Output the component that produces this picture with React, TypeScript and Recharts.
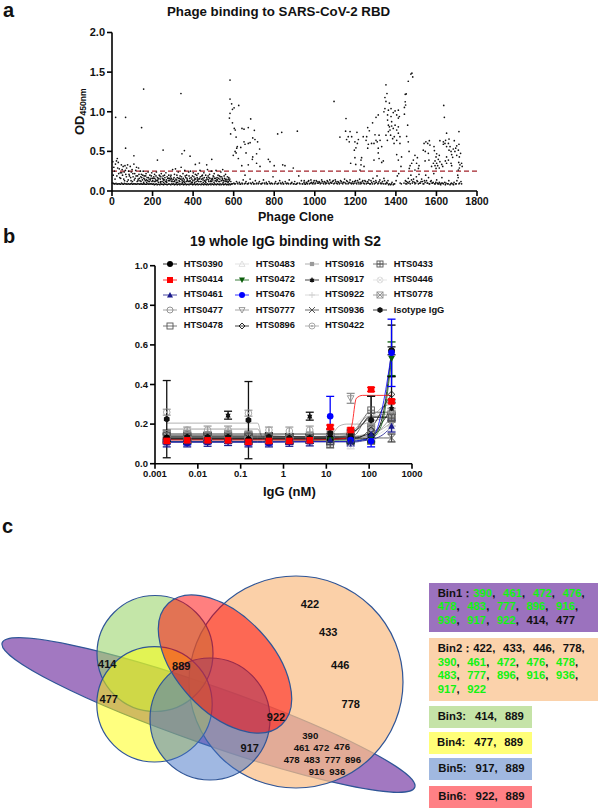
import { ComposedChart, Line, ErrorBar, Scatter, ScatterChart, XAxis, YAxis, ReferenceLine } from "recharts";

const FONT = '"Liberation Sans", Arial, sans-serif';

// panel a: phage clones, [clone, OD450]
const highClones = [
  [18,.93],[67,.93],[156,1.286],[146,.8],[340,1.23],[67,.54],[108,.445],[252,.517],[224,.39],[357,.51],[345,.47],[385,.44],[492,.4],[411,.335],[431,.353],[467,.33],
  [582,1.4],[582,1.16],[590,1.1],[582,.98],[579,.92],[594,1.03],[602,1.05],[625,1.08],[594,.86],[585,.72],[603,.79],[608,.77],[612,.68],[684,.91],[641,.79],[672,.8],[651,.78],[702,.765],
  [618,.56],[615,.54],[607,.5],[598,.45],[612,.48],[635,.55],[656,.59],[672,.6],[681,.61],[651,.62],[694,.67],[705,.65],[718,.62],[728,.53],[661,.48],[694,.43],[713,.47],[623,.41],[692,.4],[640,.32],[672,.33],[713,.35],[730,.31],[656,.2],[771,.4],[779,.37],[800,.32],[817,.72],[837,.74],[842,.33],[914,.755],[853,.32],[894,.29],
  [1095,1.13],[1154,.915],[1124,.68],[1152,.755],[1174,.75],[1165,.685],[1157,.65],[1182,.685],[1170,.62],[1208,.74],[1215,.65],[1198,.62],[1210,.6],[1203,.545],[1195,.515],[1198,.42],[1177,.35],[1202,.335],[1231,.42],[1228,.39],[1228,.33],[1243,.31],[1223,.265],[1239,.685],[1256,.685],[1261,.8],[1269,.76],[1285,.86],[1302,.93],[1313,.96],[1253,.64],[1264,.59],[1261,.54],[1280,.6],[1292,.6],[1297,.71],[1317,.705],[1302,.64],[1308,.62],[1322,.64],[1330,.56],[1313,.54],[1292,.39],[1313,.48],[1317,.41],[1338,.38],[1330,.36],
  [1351,1.34],[1356,1.23],[1346,1.18],[1351,1.13],[1368,1.11],[1346,1.04],[1341,1],[1363,1.02],[1376,1.04],[1396,1.01],[1412,1.02],[1387,.99],[1359,.96],[1376,.94],[1404,.96],[1417,.94],[1412,.92],[1359,.895],[1379,.875],[1363,.83],[1368,.81],[1379,.82],[1396,.83],[1412,.81],[1371,.77],[1387,.79],[1363,.75],[1404,.77],[1374,.705],[1351,.705],[1392,.685],[1412,.73],[1420,.685],[1358,.64],[1384,.66],[1404,.64],[1391,.6],[1420,.6],[1404,.46],[1428,.43],[1412,.39],[1425,.31],
  [1474,1.475],[1479,1.487],[1483,1.44],[1461,1.385],[1446,1.22],[1451,1.225],[1446,1.126],[1448,1.085],[1442,1.055],[1442,.97],[1458,.83],[1461,.62],[1453,.69],[1465,.5],[1494,.45],[1486,.39],[1506,.42],[1478,.35],[1502,.35],[1470,.32],[1514,.32],[1511,.285],[1466,.285],[1494,.265],
  [1539,.6],[1548,.62],[1565,.635],[1557,.6],[1568,.58],[1535,.515],[1545,.5],[1560,.475],[1544,.38],[1563,.39],[1588,.56],[1590,.51],[1601,.47],[1614,.45],[1598,.43],[1609,.4],[1593,.38],[1585,.35],[1601,.35],[1617,.37],[1593,.32],[1576,.31],[1606,.32],[1626,.335],[1614,.29],[1598,.285],[1631,.31],
  [1636,1.08],[1639,.93],[1711,.75],[1650,.73],[1617,.635],[1634,.62],[1645,.64],[1662,.655],[1688,.635],[1711,.59],[1642,.6],[1659,.6],[1634,.59],[1650,.56],[1667,.56],[1700,.57],[1662,.515],[1683,.53],[1695,.54],[1672,.5],[1691,.5],[1708,.515],[1675,.46],[1719,.475],[1680,.425],[1700,.45],[1713,.43],[1650,.43],[1644,.38],[1659,.39],[1650,.35],[1672,.35],[1675,.32],[1710,.36],[1724,.35],[1716,.33],[1727,.31],[1713,.29],[1708,.265],[1705,.2],
];

const leftCloud = [
  [4,.37],[9,.3],[12,.25],[17,.34],[22,.38],[26,.41],[31,.36],[36,.28],[41,.23],[46,.33],[50,.27],[55,.31],[60,.24],[64,.32],[68,.21],[72,.29],[77,.33],[82,.25],[86,.19],[90,.31],[95,.24],[99,.27],[104,.18],[108,.34],[112,.22],[117,.26],[121,.3],[126,.19],[131,.29],[135,.16],[140,.25],[145,.21],[150,.14],[154,.25],[159,.19],[164,.13],[168,.22],[173,.17],[178,.24],[182,.12],[187,.2],[192,.16],[196,.23],[201,.13],[206,.18],[210,.21],[215,.14],[219,.24],[224,.17],[229,.11],[233,.2],[238,.15],[243,.22],[247,.12],[252,.19],[257,.14],[261,.17],[266,.23],[270,.11],[275,.16],[280,.2],[285,.13],[289,.18],[294,.12],[299,.27],[303,.15],[308,.21],[313,.28],[317,.11],[322,.17],[327,.24],[331,.13],[336,.19],[341,.3],[345,.15],[350,.22],[354,.12],[359,.26],[364,.17],[368,.2],[373,.13],[378,.24],[383,.16],[387,.25],[392,.11],[397,.19],[401,.23],[406,.14],[411,.21],[415,.12],[420,.17],[425,.22],[429,.15],[434,.26],[439,.12],[443,.19],[448,.16],[453,.23],[457,.13],[462,.2],[467,.17],[471,.27],[476,.14],[481,.21],[485,.12],[490,.25],[495,.16],[499,.19],[504,.22],[509,.13],[513,.26],[518,.17],[523,.2],[527,.12],[532,.15],[537,.24],[541,.18],[546,.27],[551,.13],[555,.16],[560,.21],[565,.12],[569,.18],[574,.15],[579,.13],
  [6,.2],[15,.15],[24,.19],[33,.22],[43,.16],[52,.2],[62,.13],[71,.18],[80,.14],[92,.17],[101,.12],[114,.16],[128,.13],[142,.18],[156,.11],[170,.14],[185,.12],[199,.16],[213,.12],[227,.15],[241,.18],[255,.11],[268,.14],[282,.16],[296,.14],[310,.13],[324,.11],[338,.15],[352,.16],[366,.12],[380,.19],[394,.15],[408,.11],[422,.13],[436,.18],[450,.11],[464,.14],[478,.17],[492,.12],[506,.16],[520,.14],[534,.18],[548,.11],[562,.15],[576,.17],
  [28,.29],[38,.17],[48,.23],[58,.15],[66,.26],[75,.12],[84,.21],[94,.13],[103,.22],[110,.14],[119,.19],[124,.12],[133,.21],[138,.13],[147,.17],[152,.2],[161,.15],[166,.19],[176,.13],[180,.17],[189,.14],[194,.19],[203,.16],[208,.12],[217,.19],[221,.13],[231,.16],[236,.19],[240,.12],[249,.16],[254,.14],[259,.2],[264,.12],[272,.18],[278,.13],[287,.15],[291,.2],[301,.12],[306,.17],[315,.15],[320,.2],[329,.16],[334,.12],[343,.18],[347,.11],[356,.14],[361,.19],[370,.16],[376,.12],[385,.13],[390,.17],[399,.13],[404,.18],[413,.15],[418,.2],[427,.12],[432,.16],[441,.15],[446,.2],[455,.17],[460,.12],[469,.15],[474,.19],[483,.16],[488,.13],[497,.14],[502,.18],[511,.16],[516,.12],[525,.16],[530,.19],[539,.13],[544,.16],[553,.19],[558,.12],[567,.14],[572,.11],[581,.15],[586,.12],
  [129,.15],[143,.12],[157,.16],[171,.11],[183,.15],[197,.12],[211,.16],[225,.13],[239,.11],[253,.15],[267,.12],[279,.16],[293,.16],[307,.12],[319,.14],[333,.16],[346,.13],[358,.11],[371,.14],[384,.12],[396,.11],[409,.16],[423,.15],[435,.12],[449,.14],[463,.11],[477,.12],[491,.15],[503,.11],[517,.14],[531,.12],[545,.14],[559,.14],[573,.12],
];

const leftBase = [
  [2,.1],[11,.09],[20,.095],[29,.09],[38,.09],[47,.1],[56,.085],[65,.09],[74,.085],[83,.09],[92,.09],[101,.085],[110,.09],[119,.085],[128,.09],[137,.085],[146,.09],[155,.09],[164,.085],[173,.09],[182,.085],[191,.09],[200,.085],[209,.08],[218,.09],[227,.085],[236,.08],[245,.085],[254,.08],[263,.085],[272,.08],[281,.09],[290,.08],[299,.085],[308,.08],[317,.09],[326,.085],[335,.08],[344,.085],[353,.08],[362,.09],[371,.085],[380,.08],[389,.085],[398,.08],[407,.09],[416,.085],[425,.08],[434,.085],[443,.09],[452,.08],[461,.085],[470,.09],[479,.085],[488,.08],[497,.085],[506,.09],[515,.08],[524,.085],[533,.09],[542,.085],[551,.08],[560,.09],[569,.085],[578,.09],[586,.085],[594,.09],
  [7,.095],[25,.085],[43,.085],[61,.095],[79,.09],[97,.095],[115,.09],[133,.09],[151,.085],[169,.085],[187,.09],[205,.09],[223,.08],[241,.09],[259,.09],[277,.085],[295,.09],[313,.085],[331,.09],[349,.09],[367,.08],[385,.09],[403,.085],[421,.09],[439,.08],[457,.09],[475,.08],[493,.09],[511,.085],[529,.08],[547,.09],[565,.08],[583,.08],
  [15,.09],[34,.09],[52,.09],[70,.09],[88,.085],[106,.09],[124,.09],[142,.09],[160,.09],[178,.09],[196,.09],[214,.085],[232,.085],[250,.085],[268,.085],[286,.085],[304,.09],[322,.08],[340,.09],[358,.085],[376,.085],[394,.09],[412,.08],[430,.085],[448,.085],[466,.08],[484,.09],[502,.08],[520,.09],[538,.08],[556,.085],[574,.08],[590,.09],
];

const rightBand = [
  [601,.1],[608,.09],[614,.12],[621,.09],[628,.11],[634,.085],[641,.1],[647,.14],[654,.09],[661,.12],[667,.09],[674,.1],[681,.15],[687,.09],[694,.11],[701,.09],[707,.13],[714,.1],[721,.09],[727,.12],[734,.09],[741,.1],[747,.14],[754,.09],[761,.11],[767,.09],[774,.12],[781,.09],[787,.1],[794,.18],[801,.09],[807,.12],[814,.09],[821,.1],[827,.13],[834,.09],[841,.11],[847,.09],[854,.12],[861,.09],[867,.1],[874,.14],[881,.09],[887,.11],[894,.09],[901,.12],[907,.085],[914,.1],[921,.19],[927,.09],[934,.13],[941,.09],[947,.11],[954,.085],[961,.1],[967,.12],[974,.09],[981,.14],[987,.095],[994,.11],[1001,.09],[1007,.13],[1014,.1],[1021,.12],[1027,.09],[1034,.14],[1041,.1],[1047,.12],[1054,.09],[1061,.13],[1067,.1],[1074,.14],[1081,.1],[1087,.12],[1094,.09],[1101,.14],[1107,.1],[1114,.12],[1121,.09],[1127,.13],[1134,.1],[1141,.11],[1147,.15],[1154,.09],[1161,.12],[1167,.1],[1174,.14],[1181,.09],[1187,.12],[1194,.1],[1201,.13],[1207,.09],[1214,.11],[1221,.15],[1227,.09],[1234,.12],[1241,.1],[1247,.13],[1254,.09],[1261,.12],[1267,.14],[1274,.09],[1281,.11],[1287,.16],[1294,.09],[1301,.13],[1307,.19],[1314,.1],[1321,.14],[1327,.09],[1334,.12],[1341,.16],[1347,.09],[1354,.11],[1361,.13],[1367,.09],[1374,.08],[1381,.11],[1387,.08],[1394,.09],[1401,.13],[1407,.19],[1414,.22],[1421,.1],[1427,.09],[1440,.1],[1447,.13],[1454,.09],[1461,.16],[1467,.12],[1474,.2],[1481,.1],[1487,.15],[1494,.09],[1501,.18],[1507,.12],[1514,.21],[1521,.1],[1527,.15],[1534,.09],[1541,.13],[1547,.2],[1554,.1],[1561,.17],[1567,.09],[1574,.13],[1581,.1],[1587,.22],[1594,.09],[1601,.14],[1607,.09],[1614,.11],[1621,.08],[1627,.17],[1634,.09],[1641,.11],[1647,.1],[1654,.09],[1661,.13],[1667,.08],[1674,.1],[1681,.09],[1687,.11],[1694,.09],[1701,.13],[1707,.17],[1714,.1],[1721,.12],
  [604,.09],[618,.1],[631,.09],[644,.09],[658,.1],[671,.09],[684,.1],[698,.09],[711,.09],[724,.1],[738,.09],[751,.1],[764,.09],[778,.1],[791,.09],[804,.1],[818,.09],[831,.1],[844,.09],[858,.1],[871,.09],[884,.1],[898,.09],[911,.09],[924,.1],[938,.09],[951,.09],[964,.09],[978,.1],[991,.09],[1004,.1],[1018,.1],[1031,.1],[1044,.09],[1058,.1],[1071,.09],[1084,.1],[1098,.1],[1111,.09],[1124,.1],[1138,.09],[1151,.1],[1164,.09],[1178,.1],[1191,.09],[1204,.1],[1218,.09],[1231,.1],[1244,.09],[1258,.1],[1271,.09],[1284,.09],[1298,.1],[1311,.09],[1324,.1],[1338,.09],[1351,.09],[1364,.08],[1378,.09],[1391,.09],[1449,.09],[1458,.11],[1471,.09],[1484,.12],[1498,.1],[1511,.09],[1524,.12],[1538,.09],[1551,.13],[1564,.09],[1578,.1],[1591,.09],[1604,.1],[1618,.09],[1631,.1],[1644,.08],[1658,.09],[1671,.09],[1684,.08],[1698,.09],[1711,.09],[1724,.09],
  [948,.13],[958,.11],[970,.13],[984,.11],[997,.13],[1011,.12],[1024,.11],[1037,.12],[1051,.11],[1064,.12],[1077,.11],[1091,.13],[1104,.12],[1117,.11],[1131,.12],[1144,.11],[1157,.13],[1171,.11],[1184,.1],[1197,.12],[1211,.13],[1224,.11],[1237,.13],[1251,.12],[1264,.1],[1277,.13],[1291,.12],[1304,.11],[1317,.12],[1331,.1],[1344,.13],[1357,.1],[1451,.12],[1464,.1],[1477,.14],[1491,.11],[1504,.13],[1517,.1],[1531,.12],[1544,.11],[1557,.1],[1571,.12],[1584,.11],[1597,.11],[1611,.09],[1624,.1],
];

const cloneTicks = [0, 200, 400, 600, 800, 1000, 1200, 1400, 1600, 1800];
const odTicks = [0, 0.5, 1, 1.5, 2];
const clonePoints = [...highClones, ...leftCloud, ...leftBase, ...rightBand].map(([x, y]) => ({ x, y }));

// panel b: dilution series
const conc = [0.00188, 0.00565, 0.0169, 0.0508, 0.152, 0.457, 1.37, 4.1, 12.3, 37, 111, 333];
const fitX = [0.00188, 0.25, 0.32, 5, 12, 20, 30, 40, 50, 70, 100, 150, 220, 333];
const concTicks = [0.001, 0.01, 0.1, 1, 10, 100, 1000];
const igTicks = [0, 0.2, 0.4, 0.6, 0.8, 1];

const names = ["HTS0390","HTS0414","HTS0461","HTS0477","HTS0478","HTS0483","HTS0472","HTS0476","HTS0777","HTS0896","HTS0916","HTS0917","HTS0922","HTS0936","HTS0422","HTS0433","HTS0446","HTS0778","Isotype IgG"];
const colors = ["#000","#ff0000","#1a1a8c","#8a8a8a","#555","#dcdcdc","#0b5d0b","#0000ff","#909090","#111","#9a9a9a","#111","#d0d0d0","#444","#a0a0a0","#555","#dedede","#8c8c8c","#111"];
const shapes = ["circle","square","tri","ocircle","osquare","otri","dtri","circle","odtri","diamond","ssquare","star","plus","cross","dcircle","psquare","xcircle","xsquare","hex"];

const values = [
  [.13,.12,.125,.125,.12,.125,.12,.125,.13,.13,.14,.57],
  [.115,.118,.118,.118,.11,.115,.115,.118,.185,.17,.375,.315],
  [.105,.105,.108,.112,.105,.105,.108,.11,.12,.11,.15,.19],
  [.13,.13,.135,.13,.125,.13,.13,.13,.125,.12,.16,.24],
  [.15,.135,.14,.135,.14,.135,.13,.13,.1,.13,.16,.235],
  [.12,.12,.125,.12,.115,.12,.12,.12,.115,.09,.135,.2],
  [.11,.11,.115,.115,.11,.11,.115,.115,.12,.115,.13,.53],
  [.11,.105,.11,.115,.105,.105,.11,.115,.24,.12,.115,.56],
  [.125,.125,.125,.12,.125,.12,.125,.12,.135,.33,.165,.3],
  [.13,.125,.13,.125,.125,.125,.12,.125,.12,.12,.17,.35],
  [.12,.12,.12,.12,.12,.12,.12,.12,.125,.14,.14,.21],
  [.135,.13,.135,.245,.13,.13,.13,.24,.13,.13,.13,.28],
  [.12,.12,.12,.12,.12,.115,.12,.12,.12,.125,.2,.26],
  [.125,.125,.125,.125,.13,.125,.12,.125,.12,.12,.13,.13],
  [.26,.17,.17,.17,.255,.17,.165,.17,.15,.155,.2,.24],
  [.14,.135,.135,.135,.135,.13,.13,.13,.115,.13,.27,.23],
  [.14,.14,.14,.14,.14,.14,.14,.14,.13,.14,.17,.26],
  [.15,.14,.14,.14,.145,.13,.13,.14,.13,.14,.18,.25],
  [.225,.135,.135,.135,.22,.135,.13,.13,.155,.15,.22,.57],
];

const errors = [
  [.02,.02,.02,.02,.02,.02,.02,.02,.02,.02,.02,.13],
  [.01,.01,.01,.01,.01,.01,.01,.01,.01,.01,.01,.01],
  [.02,.02,.02,.02,.02,.02,.02,.02,.02,.02,.02,.03],
  [.015,.015,.015,.015,.015,.015,.015,.015,.015,.015,.02,.02],
  [.02,.03,.02,.03,.02,.02,.02,.02,.02,.02,.02,.02],
  [.015,.015,.015,.015,.015,.015,.015,.015,.015,.015,.02,.03],
  [.01,.01,.01,.01,.01,.01,.01,.01,.01,.01,.02,.085],
  [.01,.01,.01,.01,.01,.01,.01,.01,.1,.01,.03,.17],
  [.015,.015,.015,.015,.015,.015,.015,.015,.02,.025,.02,.02],
  [.02,.02,.02,.02,.02,.02,.02,.02,.02,.02,.02,.09],
  [.015,.015,.015,.015,.015,.015,.015,.015,.015,.015,.02,.02],
  [.02,.02,.02,.02,.02,.02,.02,.02,.02,.02,.02,.03],
  [.015,.015,.015,.015,.015,.015,.015,.015,.015,.015,.02,.02],
  [.02,.02,.02,.02,.02,.02,.02,.02,.02,.02,.02,.02],
  [.015,.015,.02,.02,.015,.015,.02,.02,.015,.015,.02,.02],
  [.02,.02,.02,.02,.02,.02,.02,.02,.02,.02,.07,.02],
  [.015,.015,.015,.015,.015,.015,.015,.015,.015,.015,.02,.02],
  [.02,.02,.02,.02,.02,.02,.02,.02,.02,.02,.02,.02],
  [.195,.02,.02,.02,.195,.02,.02,.02,.02,.02,.12,.02],
];

const fits = [
  [.125,.125,.125,.125,.125,.125,.125,.125,.125,.125,.13,.16,.27,.57],
  [.12,.12,.12,.12,.122,.125,.13,.2,.33,.345,.345,.345,.345,.345],
  [.108,.108,.108,.11,.11,.11,.11,.11,.11,.115,.12,.13,.15,.19],
  [.13,.13,.13,.13,.13,.13,.13,.13,.13,.135,.14,.16,.19,.24],
  [.14,.14,.14,.135,.135,.135,.135,.14,.15,.2,.235,.235,.235,.235],
  [.12,.12,.12,.12,.12,.12,.12,.12,.12,.125,.13,.145,.165,.2],
  [.112,.112,.112,.115,.115,.115,.115,.115,.115,.12,.125,.15,.24,.53],
  [.11,.11,.11,.112,.112,.112,.112,.115,.115,.12,.125,.17,.32,.56],
  [.125,.125,.125,.125,.125,.13,.14,.15,.17,.2,.23,.26,.29,.3],
  [.125,.125,.125,.125,.125,.125,.125,.13,.13,.14,.17,.22,.29,.35],
  [.12,.12,.12,.12,.125,.125,.13,.14,.14,.145,.15,.16,.18,.21],
  [.135,.135,.135,.135,.135,.135,.135,.135,.135,.14,.15,.17,.22,.28],
  [.12,.12,.12,.12,.12,.12,.125,.14,.17,.2,.23,.25,.26,.26],
  [.13,.13,.13,.13,.13,.13,.13,.13,.13,.13,.13,.13,.13,.13],
  [.205,.205,.135,.135,.14,.19,.2,.2,.2,.2,.21,.22,.23,.24],
  [.14,.14,.14,.135,.135,.135,.14,.15,.17,.22,.26,.26,.26,.26],
  [.145,.145,.145,.145,.145,.15,.16,.18,.2,.23,.25,.26,.26,.26],
  [.175,.175,.135,.135,.14,.14,.145,.16,.18,.22,.24,.24,.25,.25],
  [.15,.15,.15,.15,.15,.15,.15,.16,.17,.2,.235,.235,.235,.235],
];

// grays first so the black, red and blue markers sit on top
const drawOrder = [5, 12, 16, 3, 10, 14, 4, 17, 15, 8, 13, 9, 11, 0, 18, 6, 7, 2, 1];

const rows = conc.map((x, i) => {
  const row: Record<string, number> = { x };
  values.forEach((v, s) => {
    row[`v${s}`] = v[i];
    row[`e${s}`] = errors[s][i];
  });
  return row;
});
const fitRows = fitX.map((x, i) => {
  const row: Record<string, number> = { x };
  fits.forEach((f, s) => {
    row[`f${s}`] = f[i];
  });
  return row;
});

// panel c: sets, page coordinates
const vennX = [208.5, 296, 155, 154.5, 210, 225];
const vennY = [715, 682, 653.5, 704.3, 719, 664];
const vennRx = [218.6, 107, 58, 57.7, 60, 83];
const vennRy = [29, 106, 58, 57.7, 61, 48];
const vennTilt = [19.3, 0, 0, 0, 0, 47];
const vennFill = ["#7030a0", "#f9be88", "#9dd56e", "#ffff00", "#4171c5", "#ff0000"];
const vennAlpha = [0.65, 0.73, 0.6, 0.5, 0.5, 0.5];
const vennSets = vennX.map((x, i) => ({ x, y: vennY[i], rx: vennRx[i], ry: vennRy[i], tilt: vennTilt[i], i }));

const largeLabels = ["422", "433", "446", "778", "922", "889", "414", "477", "917"];
const largeX = [310, 328.3, 340.3, 350.7, 276, 181.3, 107.3, 108.7, 249.7];
const largeY = [604, 631.7, 664.7, 704, 716.7, 666, 664, 699, 748];
const smallLabels = ["390", "461", "472", "476", "478", "483", "777", "896", "916", "936"];
const smallX = [310.3, 301.7, 321.3, 342, 291.7, 312, 332.7, 353, 316.7, 337.3];
const smallY = [735.7, 747.3, 747, 746.7, 759, 759.3, 759, 759, 771.3, 771.7];
const vennLabels = [
  ...largeLabels.map((t, i) => ({ x: largeX[i], y: largeY[i], t, fs: 11 })),
  ...smallLabels.map((t, i) => ({ x: smallX[i], y: smallY[i], t, fs: 9.6 })),
];

const GREEN = "#12f312";
const binLines: { top: number; label?: string; tokens: [string, boolean][]; closed?: boolean }[] = [
  { top: 593.3, label: "Bin1：", tokens: [["390", true], ["461", true], ["472", true], ["476", true]] },
  { top: 606.7, tokens: [["478", true], ["483", true], ["777", true], ["896", true], ["916", true]] },
  { top: 620.3, closed: true, tokens: [["936", true], ["917", true], ["922", true], ["414", false], ["477", false]] },
  { top: 649, label: "Bin2：", tokens: [["422", false], ["433", false], ["446", false], ["778", false]] },
  { top: 662.3, tokens: [["390", true], ["461", true], ["472", true], ["476", true], ["478", true]] },
  { top: 675.7, tokens: [["483", true], ["777", true], ["896", true], ["916", true], ["936", true]] },
  { top: 689.3, closed: true, tokens: [["917", true], ["922", true]] },
];
const smallBins = [
  { label: "Bin3:", first: "414", top: 706, h: 22, bg: "#c5e3a7", left: 429.3, tx: 437.7 },
  { label: "Bin4:", first: "477", top: 732.3, h: 21.7, bg: "#ffff78", left: 429, tx: 437 },
  { label: "Bin5:", first: "917", top: 758, h: 22, bg: "#a0b8e0", left: 429.3, tx: 438.3 },
  { label: "Bin6:", first: "922", top: 786.3, h: 21.7, bg: "#ff8085", left: 429.3, tx: 438.3 },
];

function Marker({ kind, cx, cy, color, r = 3.3 }: { kind: string; cx: number; cy: number; color: string; r?: number }) {
  const sw = 0.9;
  const open = { fill: "none", stroke: color, strokeWidth: sw };
  const tri = `${cx},${cy - r} ${cx + r},${cy + r * 0.8} ${cx - r},${cy + r * 0.8}`;
  const dtri = `${cx},${cy + r} ${cx + r},${cy - r * 0.8} ${cx - r},${cy - r * 0.8}`;
  const line = { stroke: color, strokeWidth: sw };
  switch (kind) {
    case "circle":
      return <circle cx={cx} cy={cy} r={r} fill={color} />;
    case "square":
      return <rect x={cx - r} y={cy - r} width={2 * r} height={2 * r} fill={color} />;
    case "ssquare":
      return <rect x={cx - r * 0.7} y={cy - r * 0.7} width={1.4 * r} height={1.4 * r} fill={color} />;
    case "tri":
      return <polygon points={tri} fill={color} />;
    case "dtri":
      return <polygon points={dtri} fill={color} />;
    case "otri":
      return <polygon points={tri} {...open} />;
    case "odtri":
      return <polygon points={dtri} {...open} />;
    case "ocircle":
      return <circle cx={cx} cy={cy} r={r} {...open} />;
    case "osquare":
      return <rect x={cx - r} y={cy - r} width={2 * r} height={2 * r} {...open} />;
    case "diamond":
      return <polygon points={`${cx},${cy - r} ${cx + r},${cy} ${cx},${cy + r} ${cx - r},${cy}`} {...open} />;
    case "star":
      return (
        <g>
          <polygon points={`${cx},${cy - r} ${cx + r * 0.8},${cy + r * 0.7} ${cx - r * 0.8},${cy + r * 0.7}`} fill={color} />
          <polygon points={`${cx},${cy + r} ${cx + r * 0.8},${cy - r * 0.4} ${cx - r * 0.8},${cy - r * 0.4}`} fill={color} />
        </g>
      );
    case "plus":
      return (
        <g {...line}>
          <line x1={cx - r} y1={cy} x2={cx + r} y2={cy} />
          <line x1={cx} y1={cy - r} x2={cx} y2={cy + r} />
        </g>
      );
    case "cross":
      return (
        <g {...line}>
          <line x1={cx - r} y1={cy - r} x2={cx + r} y2={cy + r} />
          <line x1={cx - r} y1={cy + r} x2={cx + r} y2={cy - r} />
        </g>
      );
    case "dcircle":
      return (
        <g>
          <circle cx={cx} cy={cy} r={r} {...open} />
          <circle cx={cx} cy={cy} r={0.9} fill={color} />
        </g>
      );
    case "psquare":
      return (
        <g {...open}>
          <rect x={cx - r} y={cy - r} width={2 * r} height={2 * r} />
          <line x1={cx - r} y1={cy} x2={cx + r} y2={cy} />
          <line x1={cx} y1={cy - r} x2={cx} y2={cy + r} />
        </g>
      );
    case "xcircle":
      return (
        <g {...open}>
          <circle cx={cx} cy={cy} r={r} />
          <line x1={cx - 2} y1={cy - 2} x2={cx + 2} y2={cy + 2} />
          <line x1={cx - 2} y1={cy + 2} x2={cx + 2} y2={cy - 2} />
        </g>
      );
    case "xsquare":
      return (
        <g {...open}>
          <rect x={cx - r} y={cy - r} width={2 * r} height={2 * r} />
          <line x1={cx - r} y1={cy - r} x2={cx + r} y2={cy + r} />
          <line x1={cx - r} y1={cy + r} x2={cx + r} y2={cy - r} />
        </g>
      );
    default:
      return (
        <polygon
          points={[0, 60, 120, 180, 240, 300]
            .map((a) => `${cx + r * Math.sin((a * Math.PI) / 180)},${cy - r * Math.cos((a * Math.PI) / 180)}`)
            .join(" ")}
          fill={color}
        />
      );
  }
}

const axisLine = { stroke: "#000", strokeWidth: 1.6 };
const tickFont = (fontSize: number) => ({ fill: "#111", fontSize, fontWeight: 700, fontFamily: FONT });

function Abs({ left, top, style, children }: { left: number; top: number; style?: React.CSSProperties; children: React.ReactNode }) {
  return (
    <div style={{ position: "absolute", left, top, fontFamily: FONT, fontWeight: 700, color: "#111", whiteSpace: "nowrap", lineHeight: 1, ...style }}>
      {children}
    </div>
  );
}

export default function App() {
  return (
    <div style={{ position: "absolute", left: 0, top: 0, width: 600, height: 810, background: "#fff", overflow: "hidden" }}>
      {/* panel a */}
      <Abs left={3} top={0} style={{ fontSize: 20 }}>a</Abs>
      <Abs left={167} top={5} style={{ fontSize: 13.3 }}>Phage binding to SARS-CoV-2 RBD</Abs>
      <div style={{ position: "absolute", left: 0, top: 0 }}>
        <ScatterChart width={600} height={230} margin={{ top: 32.5, right: 123, bottom: 9, left: 52 }}>
          <XAxis type="number" dataKey="x" domain={[0, 1800]} ticks={cloneTicks} interval={0} height={30} axisLine={axisLine} tickLine={axisLine} tickSize={5} tick={tickFont(10.5)} />
          <YAxis type="number" dataKey="y" domain={[0, 2]} ticks={odTicks} interval={0} width={60} axisLine={axisLine} tickLine={axisLine} tickSize={5} tick={tickFont(11)} tickFormatter={(v: number) => v.toFixed(1)} />
          <Scatter data={clonePoints} isAnimationActive={false} shape={(p: any) => <circle cx={p.cx} cy={p.cy} r={0.85} fill="#111" />} />
          <ReferenceLine y={0.25} stroke="#a3232b" strokeWidth={1.3} strokeDasharray="5 3" />
        </ScatterChart>
      </div>
      <Abs left={56} top={104} style={{ fontSize: 13, transform: "rotate(-90deg)", transformOrigin: "24px 7px" }}>
        OD<sub style={{ fontSize: 8.6, verticalAlign: "-2px" }}>450nm</sub>
      </Abs>
      <Abs left={258} top={211} style={{ fontSize: 12.5 }}>Phage Clone</Abs>

      {/* panel b */}
      <Abs left={3} top={226} style={{ fontSize: 20 }}>b</Abs>
      <Abs left={190} top={235} style={{ fontSize: 13.8 }}>19 whole IgG binding with S2</Abs>
      {names.map((n, i) => {
        const col = i < 5 ? 0 : i < 10 ? 1 : i < 15 ? 2 : 3;
        const row = i % 5;
        const cxs = [170, 242.3, 311.7, 380];
        const txs = [183.7, 255.7, 325, 393.7];
        const y = 264.3 + row * 15.35;
        return (
          <div key={n}>
            <svg style={{ position: "absolute", left: cxs[col] - 12, top: y - 6 }} width={24} height={12}>
              <line x1={5} y1={6} x2={19} y2={6} stroke={colors[i]} strokeWidth={0.8} />
              <Marker kind={shapes[i]} cx={12} cy={6} color={colors[i]} r={3} />
            </svg>
            <Abs left={txs[col]} top={y - 4.7} style={{ fontSize: 9.3 }}>{n}</Abs>
          </div>
        );
      })}
      <div style={{ position: "absolute", left: 0, top: 255 }}>
        <ComposedChart width={600} height={250} data={rows} margin={{ top: 10.7, right: 188, bottom: 11.3, left: 95 }}>
          <XAxis type="number" dataKey="x" scale="log" domain={[0.001, 1000]} ticks={concTicks} interval={0} allowDataOverflow height={30} axisLine={axisLine} tickLine={axisLine} tickSize={5} tick={tickFont(9.5)} tickFormatter={(v: number) => String(v)} />
          <YAxis type="number" domain={[0, 1]} ticks={igTicks} interval={0} width={60} axisLine={axisLine} tickLine={axisLine} tickSize={5} tick={tickFont(9.5)} tickFormatter={(v: number) => v.toFixed(1)} />
          {drawOrder.map((s) => (
            <Line key={`fit${s}`} data={fitRows} dataKey={`f${s}`} type="monotone" stroke={colors[s]} strokeWidth={0.8} dot={false} isAnimationActive={false} />
          ))}
          {drawOrder.map((s) => (
            <Line
              key={`pts${s}`}
              dataKey={`v${s}`}
              stroke="none"
              isAnimationActive={false}
              dot={(p: any) => <Marker key={`${s}-${p.index}`} kind={shapes[s]} cx={p.cx} cy={p.cy} color={colors[s]} />}
            >
              <ErrorBar dataKey={`e${s}`} direction="y" width={4} stroke={colors[s]} strokeWidth={1.3} isAnimationActive={false} />
            </Line>
          ))}
        </ComposedChart>
      </div>
      <Abs left={263} top={485} style={{ fontSize: 13 }}>IgG (nM)</Abs>

      {/* panel c */}
      <Abs left={2} top={516} style={{ fontSize: 20 }}>c</Abs>
      <div style={{ position: "absolute", left: 0, top: 540 }}>
        <ScatterChart width={420} height={270} margin={{ top: 0, right: 0, bottom: 0, left: 0 }}>
          <XAxis type="number" dataKey="x" hide domain={[0, 420]} />
          <YAxis type="number" dataKey="y" hide domain={[540, 810]} reversed />
          <Scatter
            data={vennSets}
            isAnimationActive={false}
            shape={(p: any) => (
              <ellipse
                cx={p.cx}
                cy={p.cy}
                rx={p.payload.rx}
                ry={p.payload.ry}
                transform={`rotate(${p.payload.tilt} ${p.cx} ${p.cy})`}
                fill={vennFill[p.payload.i]}
                fillOpacity={vennAlpha[p.payload.i]}
                stroke="#2f5597"
                strokeWidth={1.2}
              />
            )}
          />
          <Scatter
            data={vennLabels}
            isAnimationActive={false}
            shape={(p: any) => (
              <text x={p.cx} y={p.cy} textAnchor="middle" dominantBaseline="central" fontSize={p.payload.fs} fontWeight={700} fontFamily={FONT} fill="#111">
                {p.payload.t}
              </text>
            )}
          />
        </ScatterChart>
      </div>

      {/* bin boxes */}
      <div style={{ position: "absolute", left: 429.3, top: 582.7, width: 169, height: 49, background: "#9b72be" }} />
      <div style={{ position: "absolute", left: 429.3, top: 638.3, width: 169, height: 62.4, background: "#fbd2ab" }} />
      {smallBins.map((b) => (
        <div key={b.label}>
          <div style={{ position: "absolute", left: b.left, top: b.top, width: 103.2, height: b.h, background: b.bg }} />
          <Abs left={b.tx} top={b.top + b.h / 2 - 5.7} style={{ fontSize: 11.3 }}>{b.label}</Abs>
          <Abs left={b.tx + 37.3} top={b.top + b.h / 2 - 5.7} style={{ fontSize: 11.3 }}>{b.first},</Abs>
          <Abs left={b.tx + 67.3} top={b.top + b.h / 2 - 5.7} style={{ fontSize: 11.3 }}>889</Abs>
        </div>
      ))}
      {binLines.map((l) => (
        <div key={l.top}>
          {l.label && <Abs left={437.7} top={l.top - 5.7} style={{ fontSize: 11.3 }}>{l.label}</Abs>}
          {l.tokens.map(([t, g], i) => {
            const start = l.label ? 473.3 : 437.7;
            const step = l.label ? 29.8 : 29.6;
            const last = l.closed && i === l.tokens.length - 1;
            return (
              <Abs key={i} left={start + i * step} top={l.top - 5.7} style={{ fontSize: 11.3 }}>
                <span style={{ color: g ? GREEN : "#111" }}>{t}</span>
                {last ? "" : ","}
              </Abs>
            );
          })}
        </div>
      ))}
    </div>
  );
}
